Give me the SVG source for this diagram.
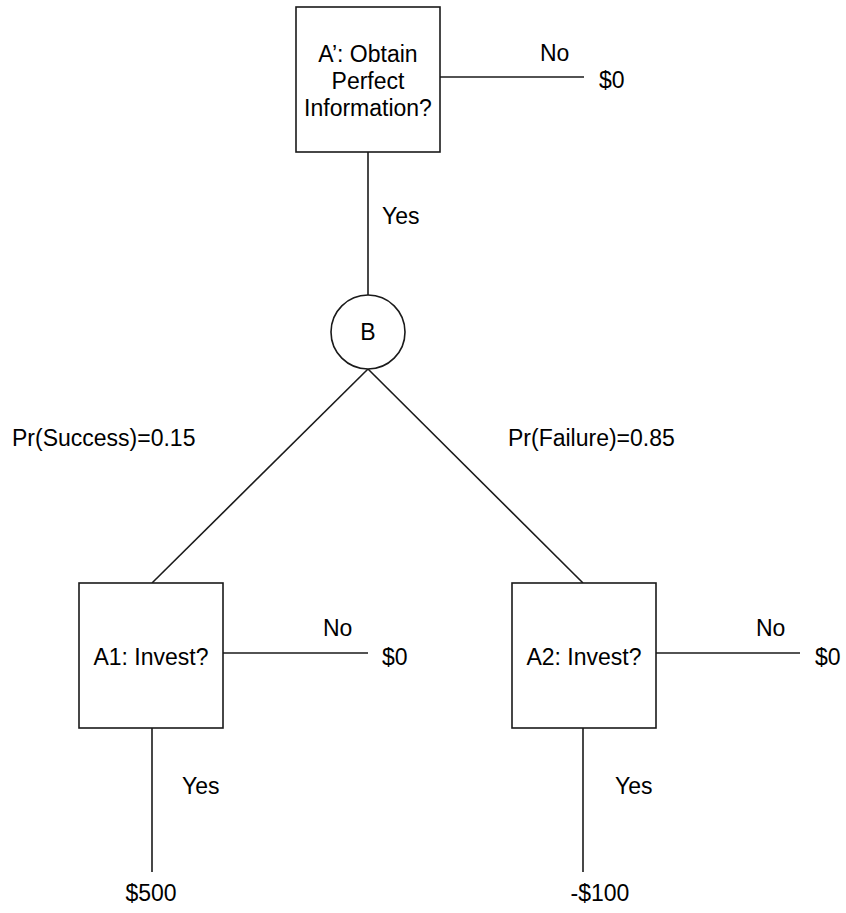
<svg xmlns="http://www.w3.org/2000/svg" width="846" height="913" viewBox="0 0 846 913">
<style>
.n{fill:#fff;stroke:#1a1a1a;stroke-width:1.6}
.c line{stroke:#1a1a1a;stroke-width:1.6}
text{font-family:"Liberation Sans",Arial,sans-serif;font-size:23px;fill:#000}
.m{text-anchor:middle}
</style>
<rect width="846" height="913" fill="#fff"/>
<g id="connectors" class="c">
<line x1="440" y1="77" x2="584" y2="77"/>
<line x1="368" y1="152" x2="368" y2="295"/>
<line x1="368" y1="369" x2="152" y2="583"/>
<line x1="368" y1="369" x2="583" y2="583"/>
<line x1="223" y1="653" x2="368" y2="653"/>
<line x1="152" y1="728" x2="152" y2="872"/>
<line x1="656" y1="653" x2="800" y2="653"/>
<line x1="583" y1="728" x2="583" y2="872"/>
</g>
<g id="labels">
<text x="540" y="61">No</text>
<text x="599" y="88">$0</text>
<text x="382" y="224">Yes</text>
<text x="12" y="446">Pr(Success)=0.15</text>
<text x="508" y="446">Pr(Failure)=0.85</text>
<text x="323" y="636">No</text>
<text x="382" y="665">$0</text>
<text x="756" y="636">No</text>
<text x="815" y="665">$0</text>
<text x="182" y="794">Yes</text>
<text x="615" y="794">Yes</text>
<text x="151" y="901" class="m">$500</text>
<text x="600" y="901" class="m">-$100</text>
</g>
<g id="A-prime">
<rect class="n" x="296" y="7" width="144" height="145"/>
<text class="m" x="368" y="62">A’: Obtain</text>
<text class="m" x="368" y="89">Perfect</text>
<text class="m" x="368" y="116">Information?</text>
</g>
<g id="B">
<circle class="n" cx="368" cy="332" r="37"/>
<text class="m" x="368" y="340">B</text>
</g>
<g id="A1">
<rect class="n" x="79" y="583" width="144" height="145"/>
<text class="m" x="151" y="665">A1: Invest?</text>
</g>
<g id="A2">
<rect class="n" x="512" y="583" width="144" height="145"/>
<text class="m" x="584" y="665">A2: Invest?</text>
</g>
</svg>
